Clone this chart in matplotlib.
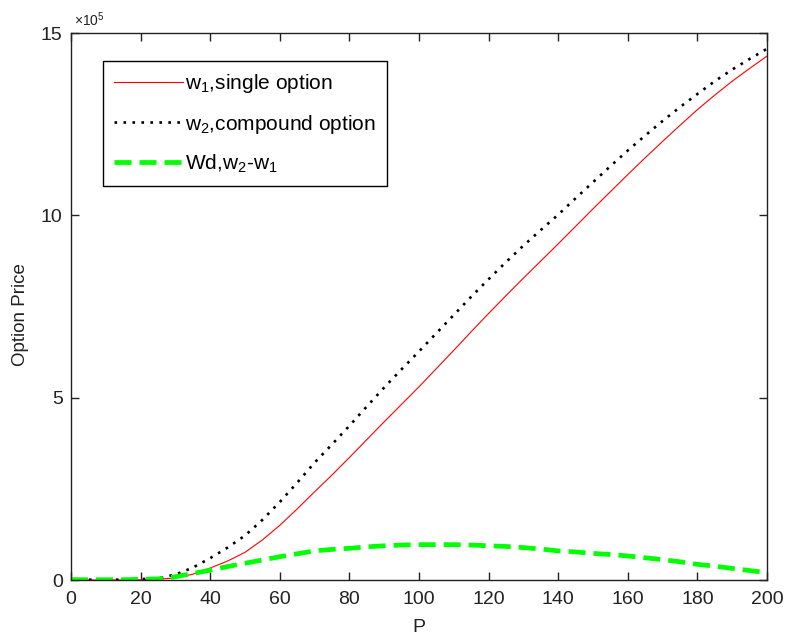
import matplotlib
matplotlib.use("Agg")
import matplotlib.pyplot as plt

plt.rcParams['font.family'] = ['Liberation Sans', 'DejaVu Sans']
plt.rcParams['mathtext.fontset'] = 'custom'
plt.rcParams['mathtext.rm'] = 'Liberation Sans'
plt.rcParams['mathtext.it'] = 'Liberation Sans'

P = [0, 5, 10, 15, 20, 25, 30, 35, 40, 45, 50, 55, 60, 65, 70, 75, 80, 85, 90, 95, 100,
     105, 110, 115, 120, 125, 130, 135, 140, 145, 150, 155, 160, 165, 170, 175, 180, 185, 190, 195, 200]

# values in units of 1e5
w1 = [0.0, 0.0, 0.0, 0.0, 0.005, 0.02, 0.06, 0.16, 0.33, 0.52, 0.76, 1.10, 1.50, 1.95, 2.42, 2.88, 3.36, 3.85, 4.34, 4.82, 5.30,
      5.80, 6.30, 6.81, 7.31, 7.80, 8.28, 8.75, 9.22, 9.70, 10.18, 10.65, 11.12, 11.58, 12.03, 12.47, 12.90, 13.30, 13.68, 14.03, 14.37]
w2 = [0.01, 0.01, 0.01, 0.01, 0.025, 0.05, 0.15, 0.34, 0.60, 0.89, 1.22, 1.65, 2.14, 2.67, 3.22, 3.72, 4.23, 4.76, 5.28, 5.78, 6.27,
      6.77, 7.27, 7.77, 8.25, 8.72, 9.17, 9.60, 10.02, 10.47, 10.91, 11.35, 11.78, 12.19, 12.59, 12.97, 13.33, 13.68, 14.00, 14.29, 14.57]
wd = [0.01, 0.01, 0.01, 0.01, 0.02, 0.03, 0.09, 0.18, 0.27, 0.37, 0.46, 0.55, 0.64, 0.72, 0.80, 0.84, 0.87, 0.91, 0.94, 0.96, 0.97,
      0.97, 0.97, 0.96, 0.94, 0.92, 0.89, 0.85, 0.80, 0.77, 0.73, 0.70, 0.66, 0.61, 0.56, 0.50, 0.43, 0.38, 0.32, 0.26, 0.20]

labels = [r'w$_1$,single option', r'w$_2$,compound option', r'Wd,w$_2$-w$_1$']
xticks = [0, 20, 40, 60, 80, 100, 120, 140, 160, 180, 200]
yticks = [0, 5, 10, 15]

fig = plt.figure(figsize=(7.87, 6.36), dpi=100)
ax = fig.add_axes([0.0902, 0.088, 0.8844, 0.860])

ax.plot(P, w1, color='#ff0000', lw=0.8, label=labels[0])
ax.plot(P, w2, color='black', lw=1.9, linestyle=(0, (1.0, 2.4)), label=labels[1])
ax.plot(P, wd, color='#00ff00', lw=3.4, linestyle=(0, (3.6, 1.7)), label=labels[2])

ax.set_xlim(0, 200)
ax.set_ylim(0, 15)
ax.set_xticks(xticks)
ax.set_yticks(yticks)
ax.tick_params(direction='in', length=6, width=1, top=True, right=True,
               labelsize=14, colors='#222222')
ax.tick_params(axis='x', pad=8)
ax.tick_params(axis='y', pad=6)
for s in ax.spines.values():
    s.set_linewidth(1.0)
    s.set_color('#222222')

ax.set_xlabel('P', fontsize=14, labelpad=8, color='#222222')
ax.set_ylabel('Option Price', fontsize=13.5, color='#222222')
ax.yaxis.set_label_coords(-0.061, 0.485)
ax.text(0.005, 1.008, r'$\times$10$^5$', transform=ax.transAxes, fontsize=10,
        ha='left', va='bottom', color='#222222')

leg = ax.legend(loc='upper left', bbox_to_anchor=(0.046, 0.949), fontsize=15,
                frameon=True, fancybox=False, shadow=False, handlelength=3.3,
                handletextpad=0.1, labelspacing=0.82, borderpad=0.55, borderaxespad=0)
leg.get_frame().set_edgecolor('black')
leg.get_frame().set_linewidth(1.0)
leg.get_frame().set_alpha(1)

fig.savefig('out.png', dpi=100)
